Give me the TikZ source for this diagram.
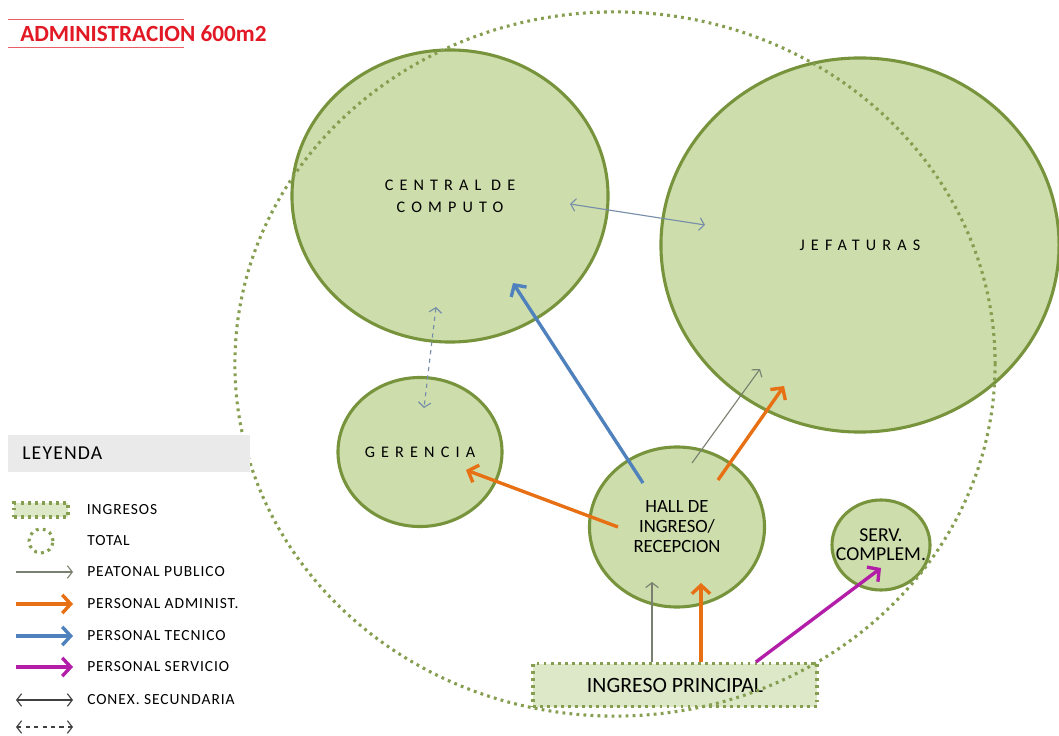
\documentclass[tikz,border=0pt]{standalone}
\usepackage{fontspec}
\setmainfont{Carlito}
\usetikzlibrary{arrows.meta,positioning,shapes.geometric,calc}

\definecolor{zonafondo}{RGB}{205,221,172}
\definecolor{zonaborde}{RGB}{119,147,60}
\definecolor{ingresofondo}{RGB}{221,232,201}
\definecolor{admincol}{RGB}{232,112,20}
\definecolor{tecnicocol}{RGB}{79,129,189}
\definecolor{serviciocol}{RGB}{178,30,168}
\definecolor{peatonalcol}{RGB}{122,128,112}
\definecolor{conexcol}{RGB}{118,142,168}
\definecolor{titulocol}{RGB}{226,24,36}
\definecolor{leyendafondo}{RGB}{234,234,234}

\begin{document}
\begin{tikzpicture}[
  x=0.025cm, y=-0.025cm,
  font=\fontsize{11}{14}\selectfont,
  % Styles
  zona/.style={draw=zonaborde,fill=zonafondo,ellipse,line width=2.2pt,inner sep=0pt,align=center},
  espaciado/.style={font=\fontsize{11.5}{15.6}\selectfont\addfontfeature{LetterSpace=38}},
  puntos/.style={draw=zonaborde!90,line width=2.2pt,dash pattern=on 2pt off 3pt},
  ingreso/.style={puntos,fill=ingresofondo,rectangle,inner sep=0pt},
  thinarrow/.style={-{Straight Barb[length=3.5pt,width=9pt]},line width=0.8pt},
  thickarrow/.style={-{Straight Barb[length=6pt,width=13pt]},line width=2.4pt},
  peatonal/.style={thinarrow,draw=peatonalcol},
  admin/.style={thickarrow,draw=admincol},
  tecnico/.style={thickarrow,draw=tecnicocol},
  servicio/.style={thickarrow,draw=serviciocol},
  conex/.style={{Straight Barb[length=3.5pt,width=9pt]}-{Straight Barb[length=3.5pt,width=9pt]},line width=0.8pt},
  leyendatexto/.style={anchor=west,inner sep=0pt,font=\fontsize{11}{13}\selectfont\addfontfeature{LetterSpace=6}},
  ]

\useasboundingbox (0,0) rectangle (1059,736);

%--- Titulo ---------------------------------------------------------
\node[anchor=west,inner sep=0pt,text=titulocol,font=\fontsize{16.5}{19}\selectfont\bfseries] (titulo) at (20,34) {ADMINISTRACION 600m2};
\draw[titulocol!70,line width=0.6pt] (8,19) -- (184,19);
\draw[titulocol!70,line width=0.6pt] (8,47) -- (184,47);

%--- Zonas ----------------------------------------------------------
\node[zona,minimum width=7.9cm,minimum height=7.3cm,espaciado] (central) at (450,196) {CENTRAL DE\\COMPUTO};
\node[zona,minimum width=9.95cm,minimum height=9.35cm,espaciado] (jefaturas) at (860,245) {JEFATURAS};
\node[zona,minimum width=4.1cm,minimum height=3.725cm,espaciado] (gerencia) at (420,452) {GERENCIA};
\node[zona,minimum width=4.375cm,minimum height=4cm,font=\fontsize{13.3}{14.2}\selectfont] (hall) at (677,527) {HALL DE\\INGRESO/\\RECEPCION};
\node[zona,minimum width=2.45cm,minimum height=2.25cm,
  label={[align=center,font=\fontsize{14}{13.5}\selectfont]center:SERV.\\COMPLEM.}] (serv) at (881,545) {};

% Ingreso principal
\node[ingreso,minimum width=7.1cm,minimum height=1.075cm,font=\fontsize{15.5}{17}\selectfont] (ingreso) at (675,685) {INGRESO PRINCIPAL};

% Total (circulo punteado)
\node[puntos,ellipse,minimum width=19cm,minimum height=17.6cm] (total) at (615,364) {};

%--- Circulaciones --------------------------------------------------
\draw[tecnico] ([shift={(-34,-44)}]hall.center) -- ([shift={(63,87)}]central.center);
\draw[admin] ([shift={(-59,0)}]hall.center) -- ([shift={(46,18)}]gerencia.center);
\draw[peatonal] ([shift={(15,-64)}]hall.center) -- ([shift={(-100,124)}]jefaturas.center);
\draw[admin] ([shift={(41,-47)}]hall.center) -- ([shift={(-76,141)}]jefaturas.center);
\draw[peatonal] ([xshift=-23*0.025cm]ingreso.north) -- ([shift={(-25,55)}]hall.center);
\draw[admin] ([xshift=26*0.025cm]ingreso.north) -- ([shift={(24,56)}]hall.center);
\draw[servicio] ([xshift=81*0.025cm]ingreso.north) -- ([shift={(0,23)}]serv.center);

% Conexiones secundarias
\draw[conex,draw=conexcol] ([shift={(120,8)}]central.center) -- ([shift={(-155,-20)}]jefaturas.center);
\draw[conex,draw=conexcol,dashed] ([shift={(-14,111)}]central.center) -- ([shift={(4,-44)}]gerencia.center);

%--- Leyenda --------------------------------------------------------
\node[fill=leyendafondo,anchor=west,text width=5.35cm,inner xsep=0.35cm,minimum height=0.925cm,
  font=\fontsize{14}{16}\selectfont\addfontfeature{LetterSpace=6}] (leyenda) at (8,453.5) {LEYENDA};

\node[ingreso,minimum width=1.35cm,minimum height=0.35cm] (ley1) at (41,510) {};
\node[leyendatexto,right=0.425cm of ley1] {INGRESOS};

\node[puntos,circle,minimum size=0.6cm,inner sep=0pt] (ley2) at (41,541) {};
\node[leyendatexto] at (87,541) {TOTAL};

\coordinate (ley3) at (16,572);
\draw[peatonal] (ley3) -- ++(57,0) coordinate (ley3e);
\node[leyendatexto,right=0.35cm of ley3e] {PEATONAL PUBLICO};

\coordinate (ley4) at (16,604);
\draw[admin] (ley4) -- ++(57,0) coordinate (ley4e);
\node[leyendatexto,right=0.35cm of ley4e] {PERSONAL ADMINIST.};

\coordinate (ley5) at (16,636);
\draw[tecnico] (ley5) -- ++(57,0) coordinate (ley5e);
\node[leyendatexto,right=0.35cm of ley5e] {PERSONAL TECNICO};

\coordinate (ley6) at (16,667);
\draw[servicio] (ley6) -- ++(57,0) coordinate (ley6e);
\node[leyendatexto,right=0.35cm of ley6e] {PERSONAL SERVICIO};

\coordinate (ley7) at (16,700);
\draw[conex,draw=black!75] (ley7) -- ++(57,0) coordinate (ley7e);
\node[leyendatexto,right=0.35cm of ley7e] {CONEX. SECUNDARIA};

\coordinate (ley8) at (16,727);
\draw[conex,draw=black!75,dashed] (ley8) -- ++(57,0) coordinate (ley8e);

\end{tikzpicture}
\end{document}
